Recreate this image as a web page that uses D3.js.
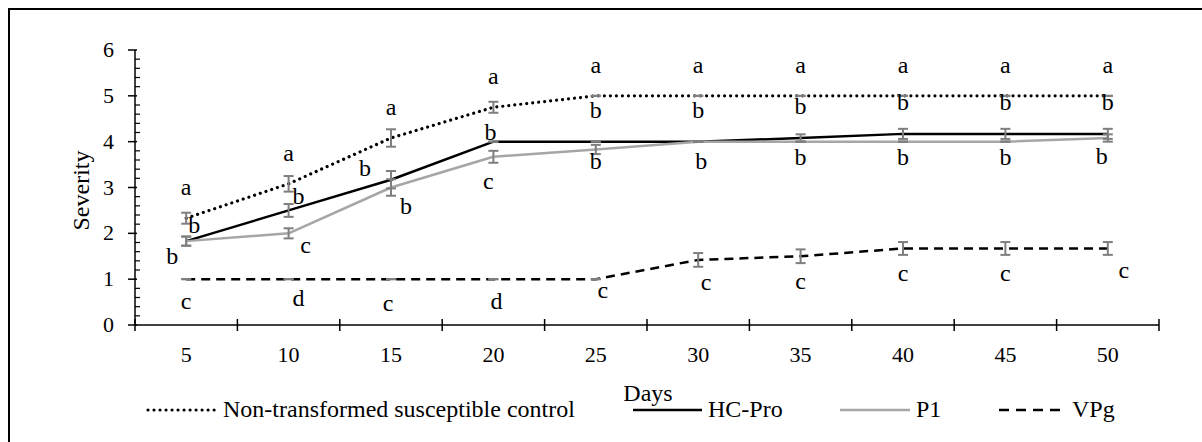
<!DOCTYPE html>
<html>
<head>
<meta charset="utf-8">
<script src="https://cdn.jsdelivr.net/npm/d3@7"></script>
<style>
    html, body { margin: 0; padding: 0; background: #fff; }
</style>
</head>
<body>
<svg id="chart" width="1202" height="442"></svg>
<script>
/*jslint browser: true */

var days = [5, 10, 15, 20, 25, 30, 35, 40, 45, 50];

var controlMean = [2.33, 3.08, 4.08, 4.75, 5, 5, 5, 5, 5, 5];
var hcProMean = [1.83, 2.5, 3.17, 4, 4, 4, 4.08, 4.17, 4.17, 4.17];
var p1Mean = [1.83, 2.0, 3.0, 3.67, 3.83, 4, 4, 4, 4, 4.08];
var vpgMean = [1, 1, 1, 1, 1, 1.42, 1.5, 1.67, 1.67, 1.67];

var controlErr = [0.12, 0.17, 0.19, 0.12, 0, 0, 0, 0, 0, 0];
var hcProErr = [0.1, 0.14, 0.19, 0, 0, 0, 0.08, 0.11, 0.11, 0.11];
var p1Err = [0.1, 0.11, 0.18, 0.13, 0.1, 0, 0, 0, 0, 0.08];
var vpgErr = [0, 0, 0, 0, 0, 0.15, 0.15, 0.14, 0.14, 0.14];

var controlLetters = ["a", "a", "a", "a", "a", "a", "a", "a", "a", "a"];
var hcProLetters = ["b", "b", "b", "b", "b", "b", "b", "b", "b", "b"];
var p1Letters = ["b", "c", "b", "c", "b", "b", "b", "b", "b", "b"];
var vpgLetters = ["c", "d", "c", "d", "c", "c", "c", "c", "c", "c"];

var seriesNames = ["Non-transformed susceptible control", "HC-Pro", "P1", "VPg"];
var yTicks = [0, 1, 2, 3, 4, 5, 6];

(function (d3) {
    "use strict";

    var svg = d3.select("#chart"),
        font = "'Liberation Serif', 'Times New Roman', Times, 'DejaVu Serif', serif",
        left = 135, right = 1159, top = 50, bottom = 325,
        x, y, series, line, g, minor, lg, legendPos;

    // label nudges (px) relative to each point, default per series then per point
    var labelShift = {
        control: {base: [0, -29]},
        hcpro: {base: [0, -30], 0: [8, -14], 1: [10, -12], 2: [-26, -10], 3: [-3, -8]},
        p1: {base: [0, 17], 0: [-14, 17], 1: [17, 14], 2: [15, 20], 3: [-5, 26], 4: [0, 14], 5: [3, 21], 9: [-6, 20]},
        vpg: {base: [0, 27], 0: [0, 24], 1: [10, 21], 2: [-3, 26], 3: [3, 24], 4: [7, 13], 5: [8, 24], 9: [16, 24]}
    };

    series = [
        {key: "control", mean: controlMean, err: controlErr, letters: controlLetters, name: seriesNames[0],
            stroke: "#000", width: 3.2, dash: "0.01 6", cap: "round"},
        {key: "hcpro", mean: hcProMean, err: hcProErr, letters: hcProLetters, name: seriesNames[1],
            stroke: "#000", width: 2.5, dash: null, cap: "butt"},
        {key: "p1", mean: p1Mean, err: p1Err, letters: p1Letters, name: seriesNames[2],
            stroke: "#a6a6a6", width: 2.5, dash: null, cap: "butt"},
        {key: "vpg", mean: vpgMean, err: vpgErr, letters: vpgLetters, name: seriesNames[3],
            stroke: "#000", width: 2.5, dash: "9 6", cap: "butt"}
    ];

    svg.attr("font-family", font);

    // outer frame (cut off at right and bottom like the source)
    svg.append("path")
        .attr("d", "M9,442V9H1202")
        .attr("fill", "none")
        .attr("stroke", "#000")
        .attr("stroke-width", 2);

    x = d3.scaleBand().domain(days).range([left, right]);
    y = d3.scaleLinear().domain([0, 6]).range([bottom, top]);

    // y axis
    g = svg.append("g");
    g.append("line").attr("x1", left).attr("x2", left).attr("y1", y(6)).attr("y2", y(0))
        .attr("stroke", "#000").attr("stroke-width", 1.5);
    minor = d3.range(0, 6.001, 0.2).filter(function (v) { return Math.abs(v - Math.round(v)) > 0.01; });
    g.selectAll("line.minor").data(minor).enter().append("line")
        .attr("class", "minor")
        .attr("x1", left).attr("x2", left + 5)
        .attr("y1", function (d) { return y(d); }).attr("y2", function (d) { return y(d); })
        .attr("stroke", "#000").attr("stroke-width", 1.2);
    g.selectAll("line.major").data(yTicks).enter().append("line")
        .attr("class", "major")
        .attr("x1", left - 7).attr("x2", left + 2)
        .attr("y1", function (d) { return y(d); }).attr("y2", function (d) { return y(d); })
        .attr("stroke", "#000").attr("stroke-width", 1.5);
    g.selectAll("text").data(yTicks).enter().append("text")
        .attr("x", left - 21)
        .attr("y", function (d) { return y(d) + 7; })
        .attr("text-anchor", "end")
        .attr("font-size", 22)
        .text(function (d) { return d; });

    // x axis, ticks sit between categories
    g = svg.append("g");
    g.append("line").attr("x1", left).attr("x2", right).attr("y1", bottom).attr("y2", bottom)
        .attr("stroke", "#000").attr("stroke-width", 1.5);
    g.selectAll("line.tick").data(days.concat([null])).enter().append("line")
        .attr("class", "tick")
        .attr("x1", function (d, i) { return left + i * x.bandwidth(); })
        .attr("x2", function (d, i) { return left + i * x.bandwidth(); })
        .attr("y1", bottom - 6).attr("y2", bottom + 6)
        .attr("stroke", "#000").attr("stroke-width", 1.5);
    g.selectAll("text").data(days).enter().append("text")
        .attr("x", function (d) { return x(d) + x.bandwidth() / 2; })
        .attr("y", bottom + 37)
        .attr("text-anchor", "middle")
        .attr("font-size", 22)
        .text(function (d) { return d; });

    // axis titles
    svg.append("text")
        .attr("transform", "translate(89," + (y(3) + 3) + ") rotate(-90)")
        .attr("text-anchor", "middle")
        .attr("font-size", 24)
        .text("Severity");
    svg.append("text")
        .attr("x", 648).attr("y", 401)
        .attr("text-anchor", "middle")
        .attr("font-size", 24)
        .text("Days");

    line = d3.line()
        .x(function (d, i) { return x(days[i]) + x.bandwidth() / 2; })
        .y(function (d) { return y(d); });

    // series lines
    svg.append("g").selectAll("path").data(series).enter().append("path")
        .attr("d", function (s) { return line(s.mean); })
        .attr("fill", "none")
        .attr("stroke", function (s) { return s.stroke; })
        .attr("stroke-width", function (s) { return s.width; })
        .attr("stroke-dasharray", function (s) { return s.dash; })
        .attr("stroke-linecap", function (s) { return s.cap; })
        .attr("stroke-linejoin", "round");

    // error bars
    series.forEach(function (s) {
        var eg = svg.append("g").attr("stroke", "#7f7f7f").attr("stroke-width", 2);
        s.mean.forEach(function (m, i) {
            var cx = x(days[i]) + x.bandwidth() / 2,
                hi = y(m + s.err[i]),
                lo = y(m - s.err[i]);
            eg.append("line").attr("x1", cx).attr("x2", cx).attr("y1", hi).attr("y2", lo);
            eg.append("line").attr("x1", cx - 5).attr("x2", cx + 5).attr("y1", hi).attr("y2", hi);
            eg.append("line").attr("x1", cx - 5).attr("x2", cx + 5).attr("y1", lo).attr("y2", lo);
        });
    });

    // significance letters
    series.forEach(function (s) {
        var shift = labelShift[s.key];
        svg.append("g").selectAll("text").data(s.letters).enter().append("text")
            .attr("x", function (d, i) {
                var o = shift[i] || shift.base;
                return x(days[i]) + x.bandwidth() / 2 + o[0];
            })
            .attr("y", function (d, i) {
                var o = shift[i] || shift.base;
                return y(s.mean[i]) + o[1] + 6;
            })
            .attr("text-anchor", "middle")
            .attr("font-size", 24)
            .text(function (d) { return d; });
    });

    // legend
    legendPos = [[148, 217], [633, 702], [840, 910], [999, 1066]];
    lg = svg.append("g").selectAll("g").data(series).enter().append("g");
    lg.append("line")
        .attr("x1", function (s, i) { return legendPos[i][0]; })
        .attr("x2", function (s, i) { return legendPos[i][1]; })
        .attr("y1", 410).attr("y2", 410)
        .attr("stroke", function (s) { return s.stroke; })
        .attr("stroke-width", function (s) { return s.width; })
        .attr("stroke-dasharray", function (s) { return s.key === "vpg" ? "10 7" : s.dash; })
        .attr("stroke-linecap", function (s) { return s.cap; });
    lg.append("text")
        .attr("x", function (s, i) { return legendPos[i][1] + 6; })
        .attr("y", 417)
        .attr("font-size", 24)
        .text(function (s) { return s.name; });

}(window.d3));
</script>
</body>
</html>
